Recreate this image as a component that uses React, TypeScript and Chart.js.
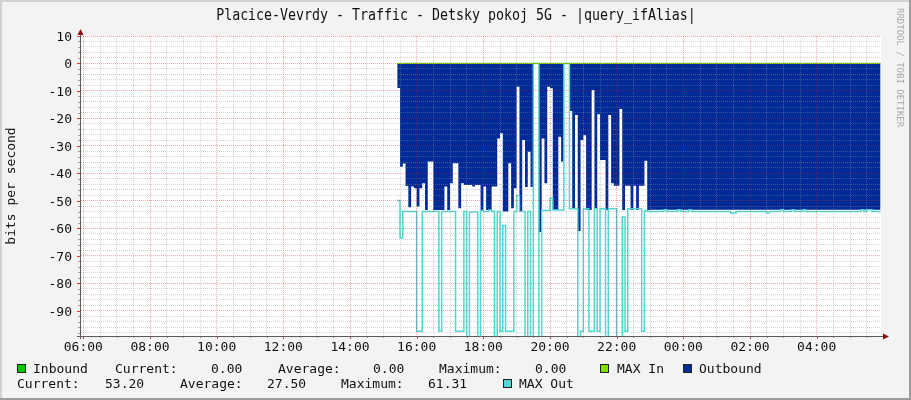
import React, { useEffect, useRef } from "react";
import { Chart, registerables } from "chart.js";

Chart.register(...registerables);

// ---------- texts ----------
const TITLE = "Placice-Vevrdy - Traffic - Detsky pokoj 5G - |query_ifAlias|";
const Y_TITLE = "bits per second";
const WATERMARK = "RRDTOOL / TOBI OETIKER";

// ---------- axes ----------
const X_MIN = 5.93; // hours (05:56)
const X_MAX = 29.93; // hours (next day 05:56)
const Y_MIN = -99.2;
const Y_MAX = 10;
const X_TICK_HOURS = [6, 8, 10, 12, 14, 16, 18, 20, 22, 24, 26, 28];
const X_TICK_LABELS = ["06:00", "08:00", "10:00", "12:00", "14:00", "16:00", "18:00", "20:00", "22:00", "00:00", "02:00", "04:00"];
const Y_TICK_VALUES = [10, 0, -10, -20, -30, -40, -50, -60, -70, -80, -90];

// ---------- data (5-minute RRD steps) ----------
const SERIES_START = "15:25";
const STEP_MINUTES = 5;

const outboundActive = [
  -8.9, -37.6, -36.4, -44.6, -52.3, -44.8, -45.4, -52.1, -45.4, -43.6,
  -53.3, -35.7, -35.7, -53.3, -53.3, -53.3, -53.3, -44.8, -53.3, -43.6,
  -36.3, -36.3, -52.7, -43.6, -44.2, -44.2, -44.2, -44.8, -44.2, -44.2,
  -53.3, -44.8, -53.3, -53.3, -44.8, -44.8, -27.3, -25.4, -53.9, -53.9,
  -36.3, -52.7, -45.4, -8.5, -53.7, -27.9, -45.0, -32.1, -45.0, 0,
  0, -61.3, -27.3, -43.6, -8.5, -9.0, -53.3, -53.3, -26.7, -35.7,
  0, 0, -17.3, -52.7, -18.8, -61.0, -27.9, -26.1, -53.3, -53.3,
  -9.7, -52.7, -18.5, -35.1, -35.1, -53.3, -18.8, -43.6, -44.5, -44.5,
  -16.6, -53.3, -44.5, -44.5, -53.3, -44.5, -53.3, -44.5, -44.5, -35.4,
  -53.3,
];
const outboundTail = [
  -53.2, -53.2, -53.2, -53.2, -53.2, -53.2, -53.2, -53.2, -53.2, -53.2,
  -53.2, -53.2, -53.2, -53.2, -53.2, -53.2, -53.2, -53.2, -53.2, -53.2,
  -53.2, -53.2, -53.2, -53.2, -53.2, -53.2, -53.2, -53.2, -53.2, -53.2,
  -53.2, -53.2, -53.2, -53.2, -53.2, -53.2, -53.2, -53.2, -53.2, -53.2,
  -53.2, -53.2, -53.2, -53.2, -53.2, -53.2, -53.2, -53.2, -53.2, -53.2,
  -53.2, -53.2, -53.2, -53.2, -53.2, -53.2, -53.2, -53.2, -53.2, -53.2,
  -53.2, -53.2, -53.2, -53.2, -53.2, -53.2, -53.2, -53.2, -53.2, -53.2,
  -53.2, -53.2, -53.2, -53.2, -53.2, -53.2, -53.2, -53.2, -53.2, -53.2,
  -53.2, -53.2, -53.2,
];

const maxOutActive = [
  -49.9, -63.4, -53.9, -53.9, -53.9, -53.9, -53.9, -97.5, -97.5, -53.9,
  -53.9, -53.9, -53.9, -53.9, -53.9, -97.5, -53.9, -53.9, -53.9, -53.9,
  -53.9, -97.5, -97.5, -97.5, -53.9, -100, -54.1, -54.1, -54.1, -100,
  -53.5, -53.9, -53.9, -53.3, -53.9, -100, -53.9, -97.5, -59.0, -97.5,
  -97.5, -97.5, -53.9, -48.1, -53.9, -53.9, -100, -53.9, -100, 0,
  0, -100, -53.5, -53.5, -53.5, -49.1, -53.3, -53.3, -53.3, -53.3,
  0, 0, -52.9, -52.9, -52.9, -100, -97.5, -52.9, -52.9, -97.5,
  -97.5, -52.9, -97.5, -52.9, -52.9, -100, -52.9, -52.9, -52.9, -100,
  -100, -55.9, -97.5, -52.9, -52.9, -52.9, -52.9, -52.9, -97.5, -53.5,
  -53.9,
];
const maxOutTail = [
  -53.9, -53.9, -53.9, -53.9, -53.9, -53.2, -53.9, -53.9, -53.9, -53.9,
  -53.2, -53.9, -53.9, -53.9, -53.2, -53.9, -53.9, -53.9, -53.9, -53.9,
  -53.9, -53.9, -53.9, -53.9, -53.9, -53.9, -53.9, -53.9, -53.9, -54.4,
  -54.4, -53.9, -53.9, -53.9, -53.9, -53.9, -53.9, -53.9, -53.9, -53.9,
  -53.9, -53.9, -54.4, -53.9, -53.9, -53.9, -53.9, -53.2, -53.9, -53.9,
  -53.9, -53.2, -53.9, -53.9, -53.9, -53.2, -53.9, -53.9, -53.9, -53.9,
  -53.9, -53.9, -53.9, -53.9, -53.9, -53.9, -53.9, -53.9, -53.9, -53.9,
  -53.9, -53.9, -53.9, -53.9, -53.9, -53.9, -53.2, -53.9, -53.2, -53.2,
  -53.9, -53.9, -53.9,
];

// MAX Out reads 0 before the interface came up; MAX In stays at 0 afterwards
const maxOutIdleTimes = ["05:55", "15:25"];
const maxOutIdleValues = [0, 0];
const maxInTimes = ["15:25", "05:55"];
const maxInValues = [0, 0];

// ---------- legend ----------
const LEGEND_INBOUND = { current: "0.00", average: "0.00", maximum: "0.00" };
const LEGEND_OUTBOUND = { current: "53.20", average: "27.50", maximum: "61.31" };

const COLORS = {
  inbound: "#00cc00",
  maxIn: "#7fe000",
  outbound: "#002a97",
  maxOut: "#55d6d3",
};

const FONT = '"DejaVu Sans Mono", monospace';

function toHours(hhmm: string): number {
  const [h, m] = hhmm.split(":").map(Number);
  let v = h + m / 60;
  if (v < X_MIN) v += 24;
  return v;
}

function stepPoints(values: number[], start: string) {
  const s = toHours(start);
  const pts = values.map((v, i) => ({ x: s + (i * STEP_MINUTES) / 60, y: v }));
  pts.push({ x: s + (values.length * STEP_MINUTES) / 60, y: values[values.length - 1] });
  return pts;
}

function pairPoints(times: string[], values: number[]) {
  return times.map((t, i) => ({ x: toHours(t), y: values[i] }));
}

const decorPlugin = {
  id: "rrdDecor",
  beforeDraw(chart: any) {
    const { ctx, chartArea: a, width, height } = chart;
    ctx.save();
    ctx.fillStyle = "#f3f3f3";
    ctx.fillRect(0, 0, width, height);
    ctx.fillStyle = "#d2d2d2";
    ctx.fillRect(0, 0, width, 2);
    ctx.fillRect(0, 0, 2, height);
    ctx.fillStyle = "#9c9c9c";
    ctx.fillRect(0, height - 2, width, 2);
    ctx.fillRect(width - 2, 0, 2, height);
    ctx.fillStyle = "#ffffff";
    ctx.fillRect(a.left, a.top, a.right - a.left, a.bottom - a.top);
    ctx.restore();
  },
  afterDraw(chart: any) {
    const { ctx, chartArea: a } = chart;
    const xs = chart.scales.x;
    const ys = chart.scales.y;
    ctx.save();

    // tick marks
    for (let h = 6; h < X_MAX; h += 0.5) {
      const px = Math.round(xs.getPixelForValue(h)) + 0.5;
      const major = Math.abs(h / 2 - Math.round(h / 2)) < 1e-6;
      ctx.strokeStyle = major ? "rgba(220,0,0,0.75)" : "rgba(120,120,120,0.7)";
      ctx.beginPath();
      ctx.moveTo(px, a.bottom);
      ctx.lineTo(px, a.bottom + (major ? 3 : 2));
      ctx.stroke();
    }
    for (let v = -98; v <= Y_MAX; v += 2) {
      const py = Math.round(ys.getPixelForValue(v)) + 0.5;
      const major = v % 10 === 0;
      ctx.strokeStyle = major ? "rgba(220,0,0,0.75)" : "rgba(120,120,120,0.7)";
      ctx.beginPath();
      ctx.moveTo(a.left - (major ? 4 : 3), py);
      ctx.lineTo(a.left - 1, py);
      ctx.stroke();
    }

    // axis lines
    ctx.strokeStyle = "#5c5c5c";
    ctx.lineWidth = 1;
    ctx.beginPath();
    ctx.moveTo(a.left - 0.5, a.top - 5);
    ctx.lineTo(a.left - 0.5, a.bottom + 3);
    ctx.moveTo(a.left - 4, a.bottom + 0.5);
    ctx.lineTo(a.right + 3, a.bottom + 0.5);
    ctx.stroke();

    // arrows
    ctx.fillStyle = "#8a1414";
    ctx.beginPath();
    ctx.moveTo(a.left - 0.5, a.top - 7);
    ctx.lineTo(a.left - 3.5, a.top - 1);
    ctx.lineTo(a.left + 2.5, a.top - 1);
    ctx.closePath();
    ctx.fill();
    ctx.beginPath();
    ctx.moveTo(a.right + 8, a.bottom + 0.5);
    ctx.lineTo(a.right + 2, a.bottom - 2.5);
    ctx.lineTo(a.right + 2, a.bottom + 3.5);
    ctx.closePath();
    ctx.fill();

    ctx.fillStyle = "#111111";
    ctx.font = `13px ${FONT}`;

    // y labels
    ctx.textAlign = "right";
    ctx.textBaseline = "alphabetic";
    Y_TICK_VALUES.forEach((v) => {
      ctx.fillText(String(v), 72, ys.getPixelForValue(v) + 5);
    });

    // x labels
    ctx.textAlign = "center";
    X_TICK_HOURS.forEach((h, i) => {
      ctx.fillText(X_TICK_LABELS[i], xs.getPixelForValue(h), 351);
    });

    // title
    ctx.save();
    ctx.translate(456, 20);
    ctx.scale(0.83, 1);
    ctx.font = `16px ${FONT}`;
    ctx.textAlign = "center";
    ctx.fillText(TITLE, 0, 0);
    ctx.restore();

    // y axis title
    ctx.save();
    ctx.translate(15, 186);
    ctx.rotate(-Math.PI / 2);
    ctx.textAlign = "center";
    ctx.fillText(Y_TITLE, 0, 0);
    ctx.restore();

    // watermark
    ctx.save();
    ctx.translate(897, 8);
    ctx.rotate(Math.PI / 2);
    ctx.font = `9px ${FONT}`;
    ctx.fillStyle = "#a8a8a8";
    ctx.textAlign = "left";
    ctx.fillText(WATERMARK, 0, 0);
    ctx.restore();

    // legend
    const box = (x: number, y: number, color: string) => {
      ctx.fillStyle = color;
      ctx.fillRect(x, y, 9, 9);
      ctx.strokeStyle = "#222222";
      ctx.strokeRect(x + 0.5, y + 0.5, 8, 8);
    };
    ctx.textAlign = "left";
    const b1 = 373;
    const b2 = 388;
    box(17, 364, COLORS.inbound);
    ctx.fillStyle = "#111111";
    ctx.fillText("Inbound", 33, b1);
    ctx.fillText("Current:", 115, b1);
    ctx.fillText(LEGEND_INBOUND.current, 211, b1);
    ctx.fillText("Average:", 278, b1);
    ctx.fillText(LEGEND_INBOUND.average, 373, b1);
    ctx.fillText("Maximum:", 439, b1);
    ctx.fillText(LEGEND_INBOUND.maximum, 535, b1);
    box(600, 364, COLORS.maxIn);
    ctx.fillStyle = "#111111";
    ctx.fillText("MAX In", 617, b1);
    box(683, 364, COLORS.outbound);
    ctx.fillStyle = "#111111";
    ctx.fillText("Outbound", 699, b1);

    ctx.fillText("Current:", 17, b2);
    ctx.fillText(LEGEND_OUTBOUND.current, 105, b2);
    ctx.fillText("Average:", 180, b2);
    ctx.fillText(LEGEND_OUTBOUND.average, 267, b2);
    ctx.fillText("Maximum:", 341, b2);
    ctx.fillText(LEGEND_OUTBOUND.maximum, 428, b2);
    box(503, 379, COLORS.maxOut);
    ctx.fillStyle = "#111111";
    ctx.fillText("MAX Out", 519, b2);

    ctx.restore();
  },
};

export default function App() {
  const ref = useRef<HTMLCanvasElement | null>(null);

  useEffect(() => {
    if (!ref.current) return;
    const outbound = [...outboundActive, ...outboundTail];
    const maxOut = [...maxOutActive, ...maxOutTail];

    const xGrid: number[] = [];
    for (let h = 6; h < X_MAX; h += 0.5) xGrid.push(h);
    const yGrid: number[] = [];
    for (let v = -98; v <= Y_MAX; v += 2) yGrid.push(v);

    const chart = new Chart(ref.current, {
      type: "line",
      data: {
        datasets: [
          {
            label: "MAX In",
            data: pairPoints(maxInTimes, maxInValues),
            borderColor: COLORS.maxIn,
            borderWidth: 1,
            pointRadius: 0,
            fill: false,
            order: 1,
          },
          {
            label: "MAX Out idle",
            data: pairPoints(maxOutIdleTimes, maxOutIdleValues),
            borderColor: COLORS.maxOut,
            borderWidth: 1.3,
            pointRadius: 0,
            fill: false,
            order: 2,
          },
          {
            label: "MAX Out",
            data: stepPoints(maxOut, SERIES_START),
            borderColor: COLORS.maxOut,
            borderWidth: 1.5,
            pointRadius: 0,
            stepped: true,
            fill: false,
            order: 2,
          },
          {
            label: "Outbound",
            data: stepPoints(outbound, SERIES_START),
            borderColor: "rgba(0,0,0,0)",
            borderWidth: 0,
            backgroundColor: COLORS.outbound,
            pointRadius: 0,
            stepped: true,
            fill: "origin",
            order: 3,
          },
        ],
      },
      options: {
        animation: false,
        responsive: false,
        events: [],
        layout: { padding: { left: 81, right: 30, top: 36, bottom: 64 } },
        plugins: {
          legend: { display: false },
          tooltip: { enabled: false },
          title: { display: false },
        },
        scales: {
          x: {
            type: "linear",
            min: X_MIN,
            max: X_MAX,
            ticks: { display: false },
            afterBuildTicks: (scale: any) => {
              scale.ticks = xGrid.map((v) => ({ value: v }));
            },
            grid: {
              drawTicks: false,
              z: 1,
              lineWidth: 1,
              color: (c: any) =>
                c.tick && Math.abs(c.tick.value / 2 - Math.round(c.tick.value / 2)) < 1e-6
                  ? "rgba(215,30,30,0.38)"
                  : "rgba(150,150,150,0.4)",
            },
            border: { display: false, dash: [1, 1] },
          },
          y: {
            type: "linear",
            min: Y_MIN,
            max: Y_MAX,
            ticks: { display: false },
            afterBuildTicks: (scale: any) => {
              scale.ticks = yGrid.map((v) => ({ value: v }));
            },
            grid: {
              drawTicks: false,
              z: 1,
              lineWidth: 1,
              color: (c: any) =>
                c.tick && c.tick.value % 10 === 0 ? "rgba(215,30,30,0.38)" : "rgba(150,150,150,0.4)",
            },
            border: { display: false, dash: [1, 1] },
          },
        },
      } as any,
      plugins: [decorPlugin],
    });
    return () => chart.destroy();
  }, []);

  return (
    <div style={{ position: "fixed", left: 0, top: 0, width: 911, height: 400 }}>
      <canvas ref={ref} width={911} height={400} style={{ width: 911, height: 400, display: "block" }} />
    </div>
  );
}
